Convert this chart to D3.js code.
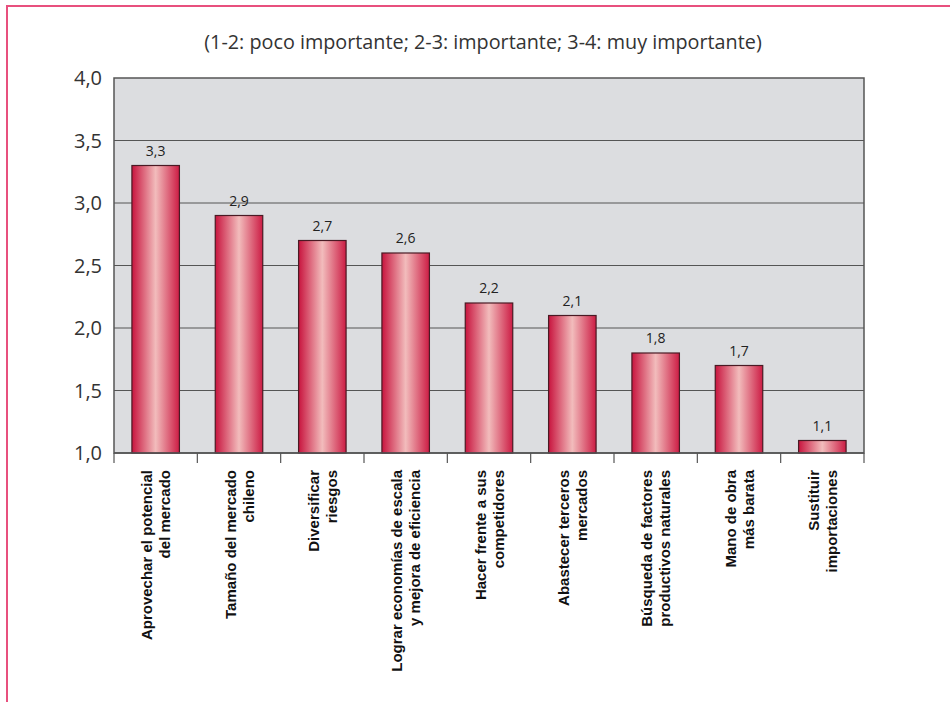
<!DOCTYPE html>
<html>
<head>
<meta charset="utf-8">
<script src="https://cdn.jsdelivr.net/npm/d3@7"></script>
<style>
  body { margin: 0; background: #fff; }
  svg { display: block; }
</style>
</head>
<body>
<div id="chart"></div>
<script>
const categories = [
  ["Aprovechar el potencial", "del mercado"],
  ["Tamaño del mercado", "chileno"],
  ["Diversificar", "riesgos"],
  ["Lograr economías de escala", "y mejora de eficiencia"],
  ["Hacer frente a sus", "competidores"],
  ["Abastecer terceros", "mercados"],
  ["Búsqueda de factores", "productivos naturales"],
  ["Mano de obra", "más barata"],
  ["Sustituir", "importaciones"]
];
const values = [3.3, 2.9, 2.7, 2.6, 2.2, 2.1, 1.8, 1.7, 1.1];
const yTicks = [1.0, 1.5, 2.0, 2.5, 3.0, 3.5, 4.0];
const subtitle = "(1-2: poco importante; 2-3: importante; 3-4: muy importante)";

const width = 950, height = 702;
const margin = { top: 78, left: 114, right: 86, bottom: 249 };
const innerWidth = width - margin.left - margin.right;
const innerHeight = height - margin.top - margin.bottom;

const fmt = (d) => d.toFixed(1).replace(".", ",");

const svg = d3.select("#chart").append("svg")
  .attr("width", width)
  .attr("height", height);

// gradient for bars
const grad = svg.append("defs").append("linearGradient")
  .attr("id", "barGrad")
  .attr("x1", "0%").attr("x2", "100%").attr("y1", "0%").attr("y2", "0%");
grad.append("stop").attr("offset", "0%").attr("stop-color", "#c8143e");
grad.append("stop").attr("offset", "50%").attr("stop-color", "#f2bcbc");
grad.append("stop").attr("offset", "100%").attr("stop-color", "#cc1c44");

// page frame (top and left)
svg.append("line").attr("x1", 6).attr("x2", width).attr("y1", 6).attr("y2", 6)
  .attr("stroke", "#e8507e").attr("stroke-width", 2);
svg.append("line").attr("x1", 7).attr("x2", 7).attr("y1", 5).attr("y2", height)
  .attr("stroke", "#e8507e").attr("stroke-width", 2);

svg.append("text")
  .attr("x", 483)
  .attr("y", 49)
  .attr("text-anchor", "middle")
  .attr("font-family", "Open Sans, sans-serif")
  .attr("font-size", "19.8px")
  .attr("fill", "#333")
  .text(subtitle);

const chart = svg.append("g").attr("transform", `translate(${margin.left},${margin.top})`);

const x = d3.scaleBand()
  .domain(categories.map((d, i) => i))
  .range([0, innerWidth])
  .paddingInner(0.43)
  .paddingOuter(0.215);

const y = d3.scaleLinear()
  .domain([1, 4])
  .range([innerHeight, 0]);

chart.append("rect")
  .attr("width", innerWidth)
  .attr("height", innerHeight)
  .attr("fill", "#dcdde0")
  .attr("stroke", "#555")
  .attr("stroke-width", 1.5);

// gridlines
chart.selectAll("line.grid")
  .data(yTicks.filter((d) => d > 1 && d < 4))
  .enter()
  .append("line")
  .attr("class", "grid")
  .attr("x1", 0).attr("x2", innerWidth)
  .attr("y1", (d) => y(d)).attr("y2", (d) => y(d))
  .attr("stroke", "#555").attr("stroke-width", 1);

// y tick labels
chart.selectAll("text.ytick")
  .data(yTicks)
  .enter()
  .append("text")
  .attr("class", "ytick")
  .attr("x", -12)
  .attr("y", (d) => y(d) + 7)
  .attr("text-anchor", "end")
  .attr("font-family", "Open Sans, sans-serif")
  .attr("font-size", "20px")
  .attr("fill", "#333")
  .text(fmt);

// bars
chart.selectAll("rect.bar")
  .data(values)
  .enter()
  .append("rect")
  .attr("class", "bar")
  .attr("x", (d, i) => x(i))
  .attr("y", (d) => y(d))
  .attr("width", x.bandwidth())
  .attr("height", (d) => innerHeight - y(d))
  .attr("fill", "url(#barGrad)")
  .attr("stroke", "#4a1a24")
  .attr("stroke-width", 1.2);

// value labels
chart.selectAll("text.val")
  .data(values)
  .enter()
  .append("text")
  .attr("class", "val")
  .attr("x", (d, i) => x(i) + x.bandwidth() / 2)
  .attr("y", (d) => y(d) - 10)
  .attr("text-anchor", "middle")
  .attr("font-family", "Open Sans, sans-serif")
  .attr("font-size", "14px")
  .attr("fill", "#222")
  .text(fmt);

// x axis baseline and ticks
chart.append("line")
  .attr("x1", 0).attr("x2", innerWidth)
  .attr("y1", innerHeight).attr("y2", innerHeight)
  .attr("stroke", "#555").attr("stroke-width", 1.5);

const step = x.step();
const x0 = x(0) - step * x.paddingOuter();
chart.selectAll("line.xtick")
  .data(d3.range(categories.length + 1))
  .enter()
  .append("line")
  .attr("class", "xtick")
  .attr("x1", (d) => x0 + d * step)
  .attr("x2", (d) => x0 + d * step)
  .attr("y1", innerHeight).attr("y2", innerHeight + 10)
  .attr("stroke", "#555").attr("stroke-width", 1.2);

// category labels
const labels = chart.selectAll("g.xlab")
  .data(categories)
  .enter()
  .append("g")
  .attr("class", "xlab")
  .attr("transform", (d, i) => `translate(${x(i) + x.bandwidth() / 2},${innerHeight + 17}) rotate(-90)`);

labels.selectAll("text")
  .data((d) => d)
  .enter()
  .append("text")
  .attr("x", 0)
  .attr("y", (d, j) => -3.5 + j * 18)
  .attr("text-anchor", "end")
  .attr("font-family", "Liberation Sans, Arial, sans-serif")
  .attr("font-weight", "bold")
  .attr("font-size", "15px")
  .attr("fill", "#111")
  .text((d) => d);
</script>
</body>
</html>
